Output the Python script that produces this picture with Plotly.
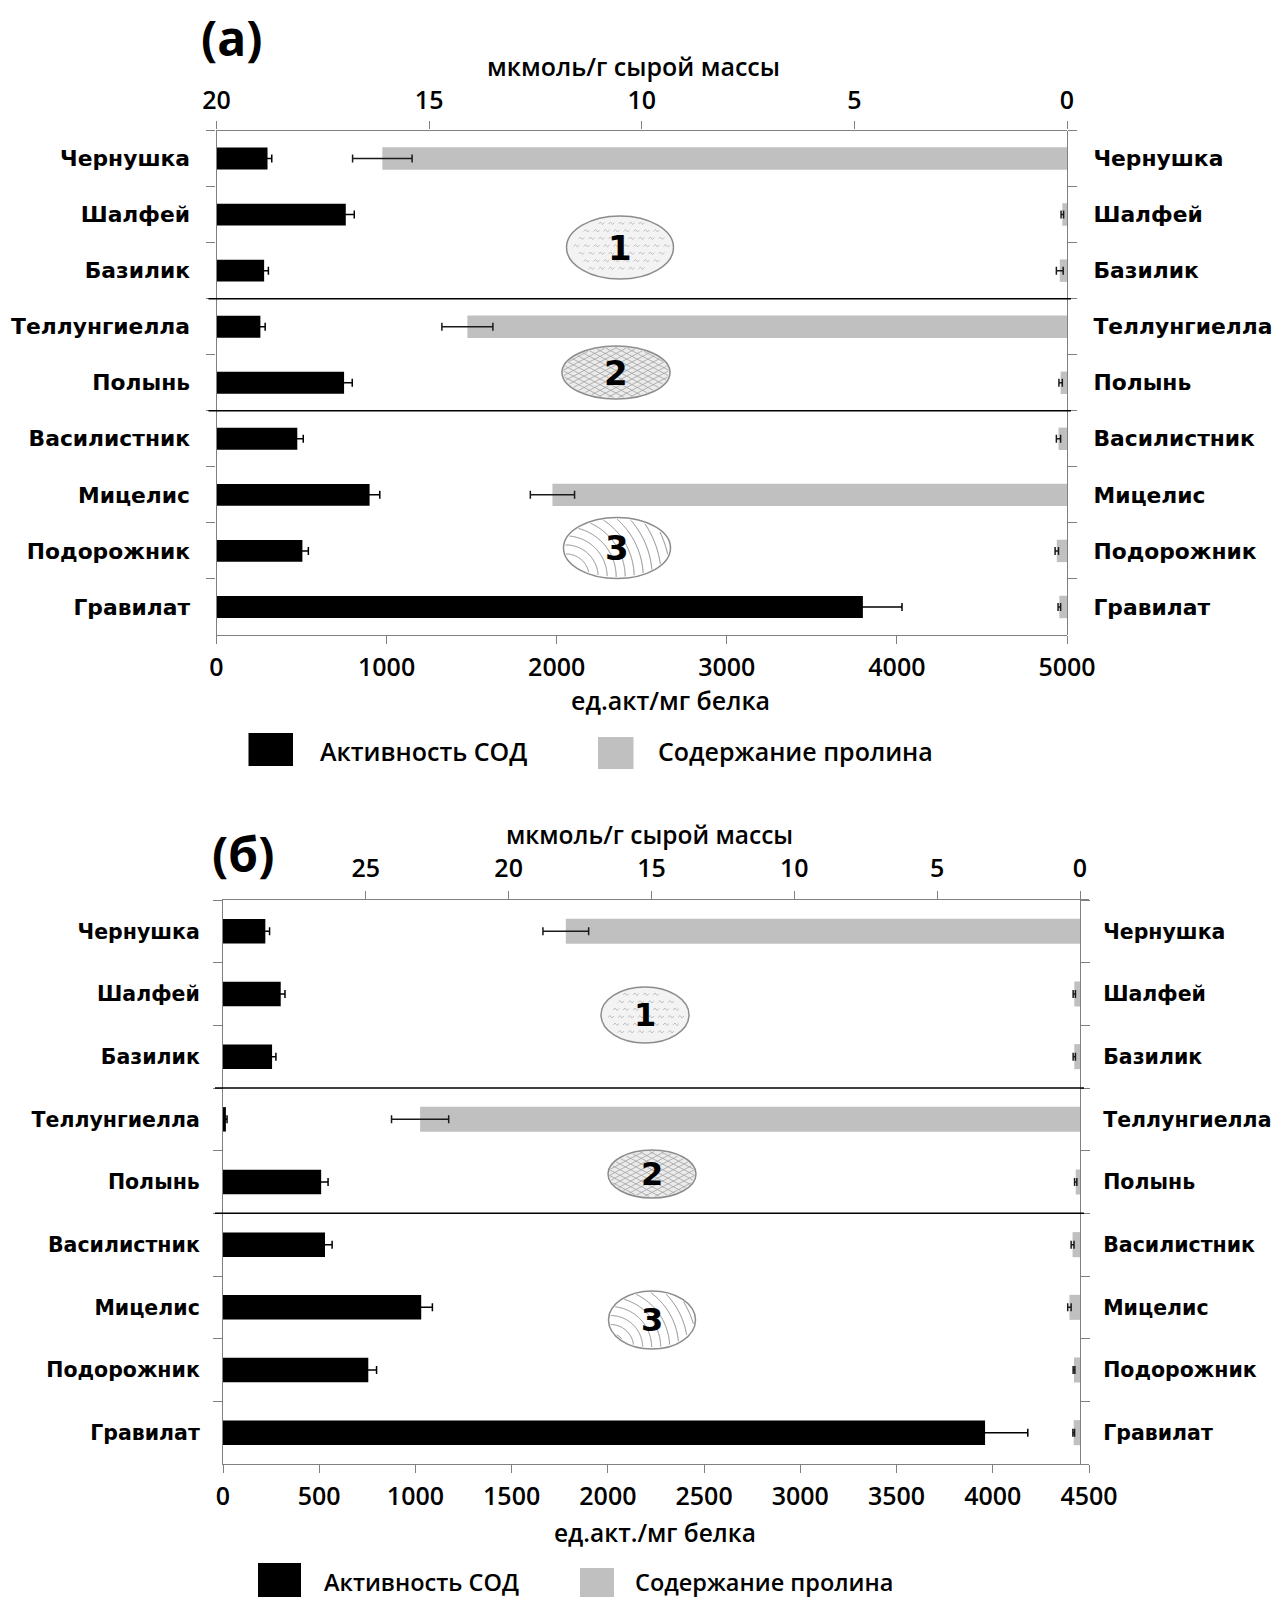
import numpy as np
import plotly.graph_objects as go

W, H = 1275, 1597

categories = ["Чернушка", "Шалфей", "Базилик", "Теллунгиелла", "Полынь",
              "Василистник", "Мицелис", "Подорожник", "Гравилат"]

# Panel (а): SOD activity (ед.акт/мг белка) and proline content (мкмоль/г)
sod_a = [300, 760, 280, 258, 750, 475, 900, 505, 3800]
sod_a_err = [25, 50, 25, 28, 48, 35, 60, 35, 230]
pro_a = [16.1, 0.11, 0.17, 14.1, 0.15, 0.20, 12.1, 0.24, 0.18]
pro_a_err = [0.70, 0.03, 0.08, 0.60, 0.04, 0.05, 0.52, 0.04, 0.03]

# Panel (б)
sod_b = [220, 300, 255, 15, 510, 530, 1030, 755, 3960]
sod_b_err = [22, 22, 20, 6, 36, 37, 58, 43, 222]
pro_b = [18.0, 0.20, 0.20, 23.1, 0.15, 0.26, 0.37, 0.21, 0.22]
pro_b_err = [0.80, 0.04, 0.04, 1.00, 0.04, 0.05, 0.06, 0.03, 0.03]

sod_ticks_a = [0, 1000, 2000, 3000, 4000, 5000]
pro_ticks_a = [20, 15, 10, 5, 0]
sod_ticks_b = [0, 500, 1000, 1500, 2000, 2500, 3000, 3500, 4000, 4500]
pro_ticks_b = [25, 20, 15, 10, 5, 0]

legend_labels = ["Активность СОД", "Содержание пролина"]
group_labels = ["1", "2", "3"]

BLACK = "#000000"
GRAY = "#c0c0c0"
AXIS = "#808080"

NUM_FONT = dict(family="Open Sans", size=25, color="black", weight=600)


def txt_font(size):
    return dict(family="Open Sans", size=size, color="black", weight=600)


def px(x):
    return x / W


def py(y):
    return 1 - y / H


def P(x, y):
    return f"{px(x):.5f},{py(y):.5f}"


fig = go.Figure()
shapes = []
annotations = []


def text_note(text, x, y, font, xanchor="center"):
    annotations.append(dict(text=text, x=px(x), y=py(y), xref="paper", yref="paper",
                            showarrow=False, xanchor=xanchor, yanchor="middle",
                            font=font))


def add_panel(ax_b, ax_t, ay_l, ay_r, geo, sod, sod_err, pro, pro_err,
              sod_ticks, pro_ticks, sod_max, pro_range, cat_size, stand_l, stand_r,
              top_standoff, title_size, bottom_title, top_title, panel_label):
    x0, x1, xr, y0, y1 = geo
    fig.add_trace(go.Bar(
        y=categories, x=sod, orientation="h", xaxis=ax_b, yaxis=ay_l,
        marker=dict(color=BLACK, line=dict(width=0)), width=0.39,
        error_x=dict(type="data", array=sod_err, color="black", thickness=1.5, width=4),
        showlegend=False, name=legend_labels[0]))
    fig.add_trace(go.Bar(
        y=categories, x=pro, orientation="h", xaxis=ax_t, yaxis=ay_r,
        marker=dict(color=GRAY, line=dict(width=0)), width=0.4,
        error_x=dict(type="data", array=pro_err, color="#1a1a1a", thickness=1.5, width=4),
        showlegend=False, name=legend_labels[1]))

    cat_font = dict(family="DejaVu Sans", size=cat_size, color="black", weight="bold")
    common_x = dict(showline=True, linecolor=AXIS, linewidth=1.2, ticks="outside",
                    ticklen=8, tickcolor=AXIS, showgrid=False, zeroline=False,
                    tickfont=NUM_FONT, automargin=False)
    common_y = dict(type="category", categoryorder="array", categoryarray=categories,
                    range=[len(categories) - 0.5, -0.5], showline=True, linecolor=AXIS,
                    linewidth=1.2, ticks="outside", ticklen=9, tickcolor=AXIS,
                    tickson="boundaries", showgrid=False, zeroline=False,
                    tickfont=cat_font, automargin=False)
    kb = "xaxis" + ax_b[1:]
    kt = "xaxis" + ax_t[1:]
    kl = "yaxis" + ay_l[1:]
    kr = "yaxis" + ay_r[1:]
    fig.layout[kb] = dict(domain=[px(x0), px(x1)], anchor=ay_l, side="bottom",
                          range=[0, sod_max], tickvals=sod_ticks,
                          ticklabelstandoff=2, **common_x)
    fig.layout[kt] = dict(overlaying=ax_b, anchor=ay_l, side="top",
                          range=pro_range, tickvals=pro_ticks,
                          ticklabelstandoff=top_standoff, **common_x)
    fig.layout[kl] = dict(domain=[py(y1), py(y0)], anchor=ax_b, side="left",
                          ticklabelstandoff=stand_l, **common_y)
    fig.layout[kr] = dict(overlaying=ay_l, anchor="free", position=px(xr), side="right",
                          ticklabelstandoff=stand_r, **common_y)

    # group separators
    for yv in (2.5, 4.5):
        shapes.append(dict(type="line", xref="paper", yref=ay_l, x0=px(x0 - 8),
                           x1=px(xr + 4), y0=yv, y1=yv,
                           line=dict(color="black", width=1.5)))

    text, (tx, ty), size = panel_label
    text_note(text, tx, ty, dict(family="Open Sans", size=size, color="black",
                                 weight="bold"))
    text_note(bottom_title[0], *bottom_title[1], txt_font(title_size))
    text_note(top_title[0], *top_title[1], txt_font(title_size))


def ellipse_shapes(cx, cy, a, b, kind, label, fsize):
    fills = {1: "#f3f3f3", 2: "#ebebeb", 3: "#ffffff"}
    shapes.append(dict(type="circle", xref="paper", yref="paper",
                       x0=px(cx - a), x1=px(cx + a), y0=py(cy + b), y1=py(cy - b),
                       fillcolor=fills[kind], line=dict(color="#8c8c8c", width=1.5)))
    path = []
    ai, bi = a - 1.5, b - 1.5
    if kind == 1:
        # small squiggle marks
        row = 0
        for yy in np.arange(cy - b, cy + b, 7.5):
            off = 5 if row % 2 else 0
            for xx in np.arange(cx - a + off, cx + a, 10):
                if ((xx - cx) / (a - 5)) ** 2 + ((yy - cy) / (b - 4)) ** 2 < 1:
                    path.append("M" + P(xx - 3, yy + 0.5) + "L" + P(xx - 1, yy - 1.5)
                                + "L" + P(xx + 1, yy + 1) + "L" + P(xx + 3, yy - 1))
            row += 1
        color, lw = "#b4b4b4", 0.8
    elif kind == 2:
        # crosshatch clipped to the ellipse
        for ang in (np.deg2rad(28), np.deg2rad(-28)):
            ux, uy = np.cos(ang), np.sin(ang)
            nx, ny = -uy, ux
            for d in np.arange(-b * 1.2, b * 1.2, 5.0):
                A = (ux / ai) ** 2 + (uy / bi) ** 2
                B = 2 * (d * nx * ux / ai ** 2 + d * ny * uy / bi ** 2)
                C = (d * nx / ai) ** 2 + (d * ny / bi) ** 2 - 1
                disc = B * B - 4 * A * C
                if disc <= 0:
                    continue
                t1 = (-B - np.sqrt(disc)) / (2 * A)
                t2 = (-B + np.sqrt(disc)) / (2 * A)
                xa, ya = cx + d * nx + t1 * ux, cy + d * ny + t1 * uy
                xb, yb = cx + d * nx + t2 * ux, cy + d * ny + t2 * uy
                path.append("M" + P(xa, ya) + "L" + P(xb, yb))
        color, lw = "#a2a2a2", 0.8
    else:
        # concentric arcs from the lower-left
        ccx, ccy = cx - 0.95 * a, cy + 0.95 * b
        th = np.linspace(0, 2 * np.pi, 720)
        for r in np.arange(14, 2.2 * a, 9):
            xs = ccx + r * np.cos(th)
            ys = ccy + r * np.sin(th)
            ins = ((xs - cx) / ai) ** 2 + ((ys - cy) / bi) ** 2 < 1
            seg = []
            for x_, y_, ok in zip(xs, ys, ins):
                if ok:
                    seg.append(P(x_, y_))
                elif seg:
                    if len(seg) > 1:
                        path.append("M" + seg[0] + "".join("L" + s for s in seg[1:]))
                    seg = []
            if len(seg) > 1:
                path.append("M" + seg[0] + "".join("L" + s for s in seg[1:]))
        color, lw = "#7a7a7a", 0.9
    if path:
        shapes.append(dict(type="path", xref="paper", yref="paper", path="".join(path),
                           line=dict(color=color, width=lw)))
    text_note(label, cx, cy, dict(family="DejaVu Sans", size=fsize, color="black",
                                  weight="bold"))


def legend_block(items, size):
    for (rx0, ry0, rx1, ry1, col), (tx, ty, text) in items:
        shapes.append(dict(type="rect", xref="paper", yref="paper", x0=px(rx0),
                           x1=px(rx1), y0=py(ry1), y1=py(ry0), fillcolor=col,
                           line=dict(width=0)))
        text_note(text, tx, ty, txt_font(size), xanchor="left")


# ---- panel (а)
geo_a = (216.5, 1067, 1067, 130.5, 635)
add_panel("x", "x2", "y", "y2", geo_a, sod_a, sod_a_err, pro_a, pro_a_err,
          sod_ticks_a, pro_ticks_a, 5000, [20, 0], 21.8, 21, 21, 2, 25,
          ("ед.акт/мг белка", (670, 700)), ("мкмоль/г сырой массы", (633, 66)),
          ("(а)", (232, 37), 48))
ellipse_shapes(620, 247.5, 53.5, 31.5, 1, group_labels[0], 34)
ellipse_shapes(616, 372.5, 54, 26.5, 2, group_labels[1], 34)
ellipse_shapes(617, 548, 53.5, 30.5, 3, group_labels[2], 34)
legend_block([((248.5, 733, 293, 766, BLACK), (318, 751, legend_labels[0])),
              ((598, 737, 633.5, 769, GRAY), (656, 751, legend_labels[1]))], 25)

# ---- panel (б)
geo_b = (223, 1089, 1080, 900, 1464)
pro_per_px = 30 / (1080 - 223)
add_panel("x3", "x4", "y3", "y4", geo_b, sod_b, sod_b_err, pro_b, pro_b_err,
          sod_ticks_b, pro_ticks_b, 4500, [30, -(1089 - 1080) * pro_per_px], 20.5, 18, 18,
          4, 24.5,
          ("ед.акт./мг белка", (655, 1532)), ("мкмоль/г сырой массы", (649, 834)),
          ("(б)", (243, 853), 48))
ellipse_shapes(645, 1015, 44, 28, 1, group_labels[0], 32)
ellipse_shapes(652, 1174, 44, 24, 2, group_labels[1], 32)
ellipse_shapes(652, 1320, 43.5, 29, 3, group_labels[2], 32)
legend_block([((258, 1563, 301, 1597, BLACK), (322, 1582, legend_labels[0])),
              ((580, 1568, 614, 1597, GRAY), (633, 1582, legend_labels[1]))], 23.5)

fig.update_layout(width=W, height=H, margin=dict(l=0, r=0, t=0, b=0, autoexpand=False),
                  paper_bgcolor="white", plot_bgcolor="white",
                  shapes=shapes, annotations=annotations, showlegend=False,
                  bargap=0.6)

fig.write_html("out.html", config={"responsive": False})
